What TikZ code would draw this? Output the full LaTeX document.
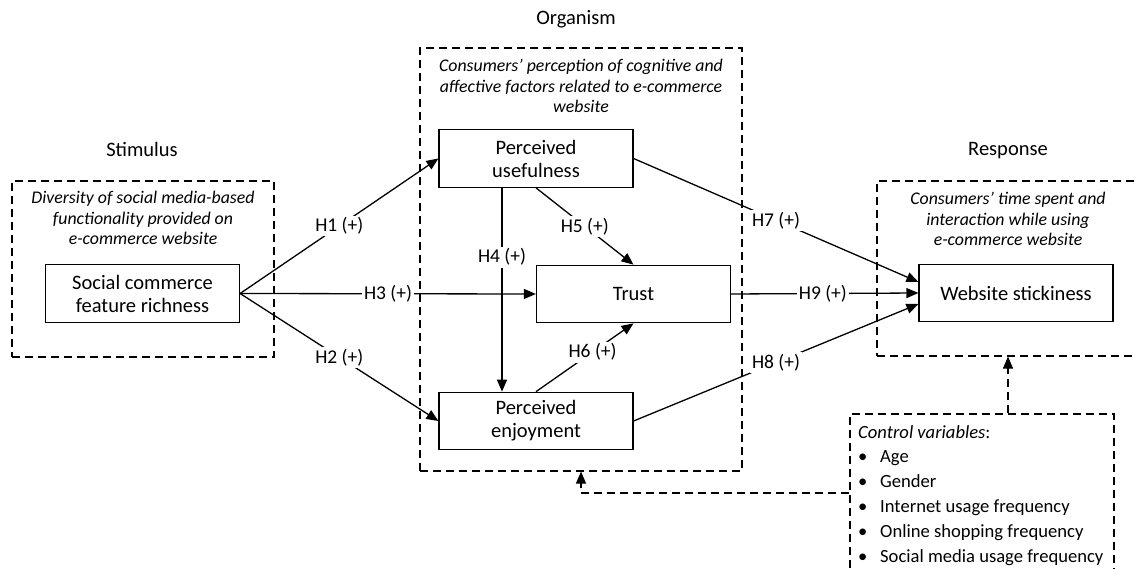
\documentclass[tikz,border=0pt]{standalone}
\usepackage{fontspec}
\setmainfont{Carlito}
\usetikzlibrary{arrows.meta,calc}
\begin{document}
\begin{tikzpicture}[x=1pt,y=-1pt,
  every node/.style={inner sep=0pt},
  block/.style={draw, line width=1.2pt, minimum width=194pt, minimum height=57.5pt,
    align=center, font=\fontsize{20.5}{23}\selectfont},
  frame/.style={draw, line width=1.1pt, dash pattern=on 8pt off 5pt},
  note/.style={align=center, font=\fontsize{17.8}{20.5}\selectfont\itshape},
  stage/.style={anchor=base, font=\fontsize{20.5}{23}\selectfont},
  link/.style={line width=1.3pt, -{Triangle[length=12pt,width=10pt]}},
  ctrllink/.style={frame, -{Triangle[length=12pt,width=10pt]}},
  hyp/.style={fill=white, inner sep=2pt, font=\fontsize{19.5}{23}\selectfont},
  cvline/.style={anchor=base west, font=\fontsize{18.6}{24.7}\selectfont},
]
\useasboundingbox (0,0) rectangle (1135,569);
\clip (0,0) rectangle (1135,569);

% stage headings
\node[stage] (hstim) at (142,157) {Stimulus};
\node[stage] (horg)  at (576,25)  {Organism};
\node[stage] (hresp) at (1008,156) {Response};

% dashed stage frames
\node[frame, minimum width=262pt, minimum height=176pt] (stim) at (143,269) {};
\node[frame, minimum width=322pt, minimum height=423pt] (org)  at (581,259.5) {};
\node[frame, minimum width=262pt, minimum height=175pt] (resp) at (1008,268.5) {};
\node[frame, minimum width=264pt, minimum height=158pt] (ctrl) at (982,493) {};

% frame descriptions
\node[note] (nstim) at (143,218) {Diversity of social media-based\\functionality provided on\\e-commerce website};
\node[note] (norg)  at (581,86)  {Consumers’ perception of cognitive and\\affective factors related to e-commerce\\website};
\node[note] (nresp) at (1008,219) {Consumers’ time spent and\\interaction while using\\e-commerce website};

% constructs
\node[block] (sc)    at (142.5,293.5) {Social commerce\\feature richness};
\node[block] (pu)    at (536,158.5)   {Perceived\\usefulness};
\node[block] (trust) at (633.5,294)   {Trust};
\node[block] (pe)    at (536,421)     {Perceived\\enjoyment};
\node[block] (ws)    at (1016,293)    {Website stickiness};

% hypotheses
\draw[link] (sc.east) -- node[hyp, pos=0.5] {H1 (+)} (pu.west);
\draw[link] (sc.east) -- node[hyp, pos=0.5] {H2 (+)} (pe.west);
\draw[link] (sc.east) -- node[hyp, pos=0.5] {H3 (+)} (trust.west);
\draw[link] ([xshift=-34pt]pu.south) -- node[hyp, pos=0.34] {H4 (+)} ([xshift=-34pt]pe.north);
\draw[link] (pu.south) -- node[hyp, pos=0.5] {H5 (+)} (trust.north);
\draw[link] (pe.north) -- node[hyp, pos=0.58] {H6 (+)} (trust.south);
\draw[link] (pu.east) -- node[hyp, pos=0.5] {H7 (+)} ([yshift=11pt]ws.west);
\draw[link] (pe.east) -- node[hyp, pos=0.5] {H8 (+)} ([yshift=-11pt]ws.west);
\draw[link] (trust.east) -- node[hyp, pos=0.49] {H9 (+)} (ws.west);

% control variables
\node[cvline] (cv0) at (858,438)   {\textit{Control variables}:};
\node[cvline] (cv1) at (858,462.8) {\makebox[22pt][l]{\textbullet}Age};
\node[cvline] (cv2) at (858,487.6) {\makebox[22pt][l]{\textbullet}Gender};
\node[cvline] (cv3) at (858,512.4) {\makebox[22pt][l]{\textbullet}Internet usage frequency};
\node[cvline] (cv4) at (858,537.2) {\makebox[22pt][l]{\textbullet}Online shopping frequency};
\node[cvline] (cv5) at (858,562)   {\makebox[22pt][l]{\textbullet}Social media usage frequency};

\draw[ctrllink] (ctrl.north -| resp.south) -- (resp.south);
\draw[ctrllink] (ctrl.west) -| (org.south);
\end{tikzpicture}
\end{document}
